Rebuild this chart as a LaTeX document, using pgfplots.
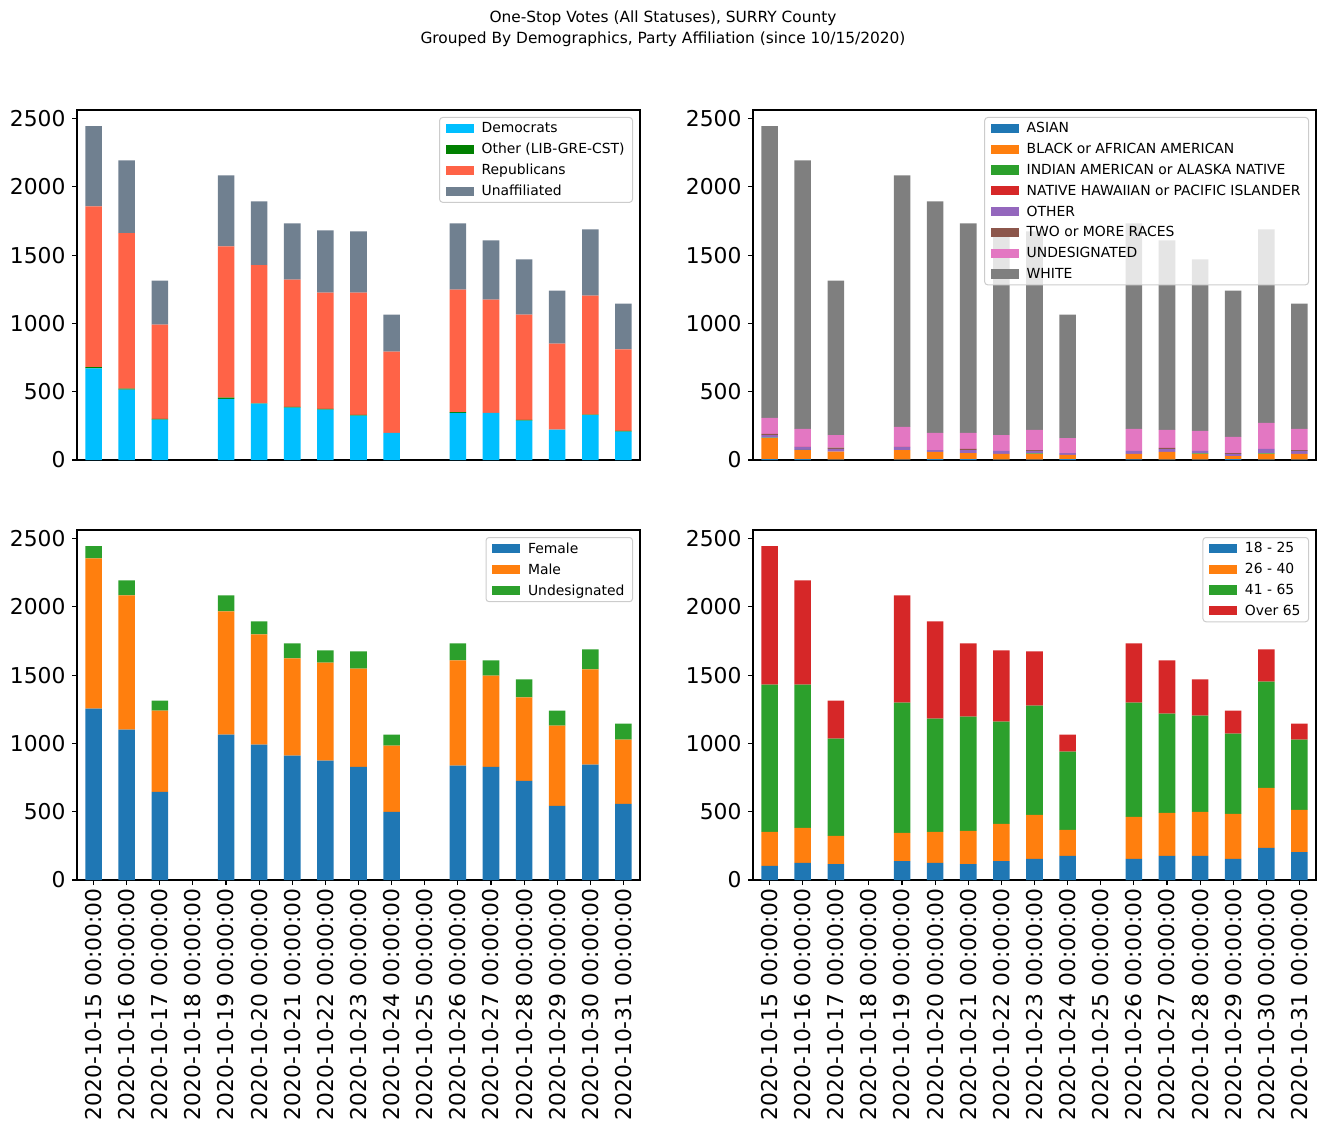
\documentclass[border=0pt]{standalone}
\usepackage{pgfplots}
\pgfplotsset{compat=1.18}
\usepackage{pgfplotstable}
\usepackage{fontspec}
\setmainfont{DejaVu Sans}

\definecolor{dem}{RGB}{0,191,255}
\definecolor{oth}{RGB}{0,128,0}
\definecolor{rep}{RGB}{255,99,71}
\definecolor{una}{RGB}{112,128,144}
\definecolor{tblue}{HTML}{1F77B4}
\definecolor{torange}{HTML}{FF7F0E}
\definecolor{tgreen}{HTML}{2CA02C}
\definecolor{tred}{HTML}{D62728}
\definecolor{tpurple}{HTML}{9467BD}
\definecolor{tbrown}{HTML}{8C564B}
\definecolor{tpink}{HTML}{E377C2}
\definecolor{tgray}{HTML}{7F7F7F}

\pgfplotstableread{
x dem oth rep una
0 670 10 1177 587
1 516 6 1139 533
2 296 5 690 322
3 0 0 0 0
4 448 8 1107 521
5 413 2 1011 467
6 384 5 932 411
7 369 5 851 455
8 325 5 895 448
9 198 0 595 271
10 0 0 0 0
11 345 6 896 485
12 345 0 829 433
13 288 5 771 404
14 222 0 629 389
15 328 5 870 485
16 208 5 597 335
}\party

\pgfplotstableread{
x asian black indian nhpi other two undes white
0 7 154 2 0 20 8 117 2136
1 7 66 2 0 20 2 130 1967
2 2 59 0 0 20 9 93 1130
3 0 0 0 0 0 0 0 0
4 3 70 0 0 22 2 145 1842
5 6 53 0 0 14 0 125 1695
6 6 45 0 0 22 8 117 1534
7 2 42 0 0 22 0 117 1497
8 2 42 4 0 18 7 147 1453
9 7 30 0 0 14 0 110 903
10 0 0 0 0 0 0 0 0
11 4 40 0 0 22 0 161 1505
12 2 57 0 0 20 9 132 1387
13 2 42 5 0 17 0 147 1255
14 7 22 0 0 15 7 118 1071
15 2 42 4 0 33 0 190 1417
16 2 42 0 0 22 7 154 918
}\race

\pgfplotstableread{
x female male undes
0 1255 1100 89
1 1101 983 110
2 646 594 73
3 0 0 0
4 1064 903 117
5 991 807 95
6 910 712 110
7 873 719 88
8 829 719 125
9 499 484 81
10 0 0 0
11 837 770 125
12 829 668 110
13 726 610 132
14 543 587 110
15 844 697 147
16 558 469 118
}\gender

\pgfplotstableread{
x a b c d
0 103 249 1079 1013
1 125 257 1049 763
2 117 206 712 278
3 0 0 0 0
4 139 206 954 785
5 125 227 829 712
6 117 243 836 536
7 139 272 748 521
8 154 323 800 396
9 176 191 572 125
10 0 0 0 0
11 154 308 837 433
12 176 316 726 389
13 176 323 704 265
14 154 330 587 169
15 235 440 778 235
16 205 309 513 118
}\age

\pgfplotsset{
  myax/.style={
    scale only axis, width=563pt, height=350pt,
    xmin=-0.5, xmax=16.5, ymin=0, ymax=2562,
    ybar stacked, bar width=0.5, bar shift=0pt,
    ytick={0,500,1000,1500,2000,2500},
    tick pos=left, tick align=outside, major tick length=5pt,
    tick style={black, line width=1.1pt},
    axis line style={line width=1.1pt},
    every tick label/.append style={font=\fontsize{21.8}{26}\selectfont},
    /pgf/number format/assume math mode=true,
    scaled y ticks=false,
    yticklabel style={/pgf/number format/set thousands separator={}, xshift=-3pt},
    every axis plot/.append style={draw=none},
    legend cell align=left,
    legend style={at={(1-7/563,1-7/350)}, anchor=north east,
      font=\fontsize{13.9}{17}\selectfont, draw=black!20, line width=1pt,
      rounded corners=3pt, fill=white, fill opacity=0.8, text opacity=1,
      inner xsep=6pt, inner ysep=3pt, row sep=5pt, column sep=6pt},
    legend image code/.code={\fill[#1, fill opacity=1, sharp corners] (0pt,-4.6pt) rectangle (28pt,4.6pt);},
  },
  topax/.style={myax, xtick=\empty},
  botax/.style={myax, xtick={0,...,16},
    xticklabels={2020-10-15 00:00:00,2020-10-16 00:00:00,2020-10-17 00:00:00,2020-10-18 00:00:00,2020-10-19 00:00:00,2020-10-20 00:00:00,2020-10-21 00:00:00,2020-10-22 00:00:00,2020-10-23 00:00:00,2020-10-24 00:00:00,2020-10-25 00:00:00,2020-10-26 00:00:00,2020-10-27 00:00:00,2020-10-28 00:00:00,2020-10-29 00:00:00,2020-10-30 00:00:00,2020-10-31 00:00:00},
    xticklabel style={rotate=90, anchor=east}},
}

\begin{document}
\begin{tikzpicture}
\useasboundingbox (0,0) rectangle (1326pt,-1137pt);
\node[font=\fontsize{15.4}{19}\selectfont] at (663pt,-18pt) {One-Stop Votes (All Statuses), SURRY County};
\node[font=\fontsize{15.4}{19}\selectfont] at (663pt,-39pt) {Grouped By Demographics, Party Affiliation (since 10/15/2020)};

\begin{axis}[topax, at={(77pt,-460pt)}, anchor=south west]
\addplot[fill=dem] table[x=x,y=dem]{\party};
\addplot[fill=oth] table[x=x,y=oth]{\party};
\addplot[fill=rep] table[x=x,y=rep]{\party};
\addplot[fill=una] table[x=x,y=una]{\party};
\legend{Democrats,Other (LIB-GRE-CST),Republicans,Unaffiliated}
\end{axis}

\begin{axis}[topax, at={(753pt,-460pt)}, anchor=south west]
\addplot[fill=tblue] table[x=x,y=asian]{\race};
\addplot[fill=torange] table[x=x,y=black]{\race};
\addplot[fill=tgreen] table[x=x,y=indian]{\race};
\addplot[fill=tred] table[x=x,y=nhpi]{\race};
\addplot[fill=tpurple] table[x=x,y=other]{\race};
\addplot[fill=tbrown] table[x=x,y=two]{\race};
\addplot[fill=tpink] table[x=x,y=undes]{\race};
\addplot[fill=tgray] table[x=x,y=white]{\race};
\legend{ASIAN,BLACK or AFRICAN AMERICAN,INDIAN AMERICAN or ALASKA NATIVE,NATIVE HAWAIIAN or PACIFIC ISLANDER,OTHER,TWO or MORE RACES,UNDESIGNATED,WHITE}
\end{axis}

\begin{axis}[botax, at={(77pt,-880pt)}, anchor=south west]
\addplot[fill=tblue] table[x=x,y=female]{\gender};
\addplot[fill=torange] table[x=x,y=male]{\gender};
\addplot[fill=tgreen] table[x=x,y=undes]{\gender};
\legend{Female,Male,Undesignated}
\end{axis}

\begin{axis}[botax, at={(753pt,-880pt)}, anchor=south west]
\addplot[fill=tblue] table[x=x,y=a]{\age};
\addplot[fill=torange] table[x=x,y=b]{\age};
\addplot[fill=tgreen] table[x=x,y=c]{\age};
\addplot[fill=tred] table[x=x,y=d]{\age};
\legend{18 - 25,26 - 40,41 - 65,Over 65}
\end{axis}
\end{tikzpicture}
\end{document}
